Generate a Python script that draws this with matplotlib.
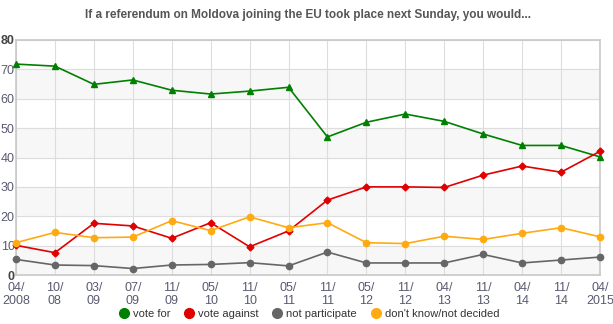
import matplotlib.pyplot as plt
from matplotlib.lines import Line2D

plt.rcParams['font.family'] = ['Liberation Sans', 'DejaVu Sans']

dates = ['04/\n2008', '10/\n08', '03/\n09', '07/\n09', '11/\n09', '05/\n10', '11/\n10', '05/\n11',
         '11/\n11', '05/\n12', '11/\n12', '04/\n13', '11/\n13', '04/\n14', '11/\n14', '04/\n2015']

vote_for = [71.8, 71.1, 64.9, 66.4, 62.9, 61.6, 62.6, 63.9, 47.0, 52.0, 54.8, 52.3, 48.0, 44.1, 44.1, 40.2]
vote_against = [10.1, 7.6, 17.6, 16.7, 12.5, 17.8, 9.6, 15.0, 25.5, 30.0, 30.0, 29.8, 34.0, 37.1, 35.0, 42.1]
not_participate = [5.3, 3.4, 3.2, 2.2, 3.4, 3.6, 4.2, 3.1, 7.8, 4.1, 4.1, 4.1, 7.0, 4.1, 5.1, 6.1]
dont_know = [11.0, 14.5, 12.7, 12.9, 18.5, 15.1, 19.8, 16.1, 17.8, 11.0, 10.7, 13.2, 12.1, 14.2, 16.1, 13.0]

series = [
    ('vote for', vote_for, '#008000', '^'),
    ('vote against', vote_against, '#e00000', 'D'),
    ('not participate', not_participate, '#666666', 'o'),
    ("don't know/not decided", dont_know, '#ffaa11', 'o'),
]

fig = plt.figure(figsize=(6.13, 3.24), dpi=100)
ax = fig.add_axes([16 / 613, 49 / 324, 584 / 613, 235 / 324])

x = list(range(len(dates)))
ax.set_xlim(0, len(dates) - 1)
ax.set_ylim(0, 80)

# alternating bands
for y0 in range(0, 80, 20):
    ax.axhspan(y0, y0 + 10, color='#f7f7f7', zorder=0)

ax.set_xticks(x)
ax.set_yticks(range(0, 81, 10))
ax.grid(True, color='#dddddd', linewidth=0.8, zorder=1)
ax.set_axisbelow(True)

for side in ['left', 'bottom', 'right', 'top']:
    ax.spines[side].set_color('#c8c8c8')
    ax.spines[side].set_linewidth(1.2)

ax.tick_params(length=0, colors='#5a5a72', labelsize=9)
ax.set_xticklabels(dates, linespacing=1.15)
ax.tick_params(axis='y', pad=1)
ax.tick_params(axis='x', pad=5)
ylabels = ax.get_yticklabels()
for i in (0, -1):
    ylabels[i].set_fontweight('bold')
    ylabels[i].set_color('#444444')

for name, vals, col, mk in series:
    ms = 3.5 if mk == 'D' else 4.5
    ax.plot(x, vals, color=col, linewidth=1.2, marker=mk, markersize=ms, zorder=3, clip_on=False)

fig.text(308 / 613, 1 - 15 / 324, 'If a referendum on Moldova joining the EU took place next Sunday, you would...',
         ha='center', va='center', fontsize=8.5, fontweight='bold', color='#555555')

handles = [Line2D([], [], linestyle='none', marker='o', markersize=7, color=c) for _, _, c, _ in series]
fig.legend(handles, [s[0] for s in series], loc='center', bbox_to_anchor=(306 / 613, 1 - 314 / 324),
           ncol=4, frameon=False, fontsize=8, handletextpad=-0.2, columnspacing=0.7,
           labelcolor='#333333', borderaxespad=0)

fig.savefig('out.png', dpi=100)
